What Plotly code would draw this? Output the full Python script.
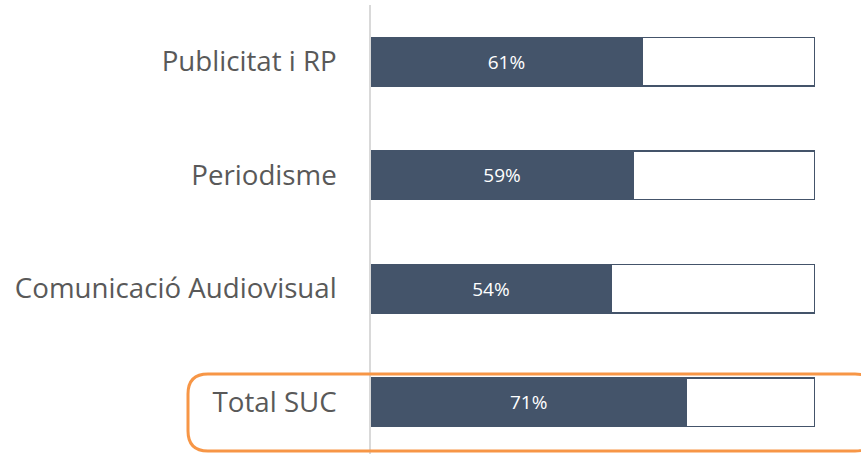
import plotly.graph_objects as go

categories = ["Publicitat i RP", "Periodisme", "Comunicació Audiovisual", "Total SUC"]
values = [61, 59, 54, 71]
remainder = [100 - v for v in values]
labels = [f"{v}%" for v in values]

W, H = 861, 454
L, R, T, B = 371, 46, 5, 0
pw, ph = W - L - R, H - T - B

dark = "#44546A"
ypos = list(range(len(categories)))

fig = go.Figure()
fig.add_trace(go.Bar(
    y=ypos, x=values, orientation="h", width=0.423,
    marker=dict(color=dark, line=dict(color=dark, width=1.5)),
    text=labels, textposition="inside", insidetextanchor="middle",
    textfont=dict(color="white", size=19, family="Open Sans"),
    hoverinfo="skip",
))
fig.add_trace(go.Bar(
    y=ypos, x=remainder, orientation="h", width=0.423,
    marker=dict(color="white", line=dict(color=dark, width=1.5)),
    hoverinfo="skip",
))

# rounded orange highlight around "Total SUC" (pixel -> paper)
def px(x):
    return (x - L) / pw
def py(y):
    return (H - B - y) / ph
x0, x1, y0, y1, r = 188, 875, 374, 451, 20
path = (
    f"M {px(x0+r)},{py(y0)} L {px(x1-r)},{py(y0)} "
    f"Q {px(x1)},{py(y0)} {px(x1)},{py(y0+r)} L {px(x1)},{py(y1-r)} "
    f"Q {px(x1)},{py(y1)} {px(x1-r)},{py(y1)} L {px(x0+r)},{py(y1)} "
    f"Q {px(x0)},{py(y1)} {px(x0)},{py(y1-r)} L {px(x0)},{py(y0+r)} "
    f"Q {px(x0)},{py(y0)} {px(x0+r)},{py(y0)} Z"
)
fig.add_shape(type="path", path=path, xref="paper", yref="paper",
              line=dict(color="#F79646", width=3), layer="above")

fig.update_layout(
    width=W, height=H, barmode="stack", showlegend=False,
    margin=dict(l=L, r=R, t=T, b=B),
    plot_bgcolor="white", paper_bgcolor="white",
    xaxis=dict(range=[0, 100], visible=False),
    yaxis=dict(
        range=[-0.5 + ph / 113.5, -0.5], tickmode="array",
        tickvals=ypos, ticktext=categories,
        tickfont=dict(family="Open Sans", size=27.7, color="#595959"),
        showline=True, linecolor="#D9D9D9", linewidth=1.5,
        showgrid=False, zeroline=False, ticks="", ticklabelstandoff=27,
    ),
)
fig.write_html("out.html", config={"displayModeBar": False},
               post_script="document.body.style.margin='0';document.body.style.overflow='hidden';")
